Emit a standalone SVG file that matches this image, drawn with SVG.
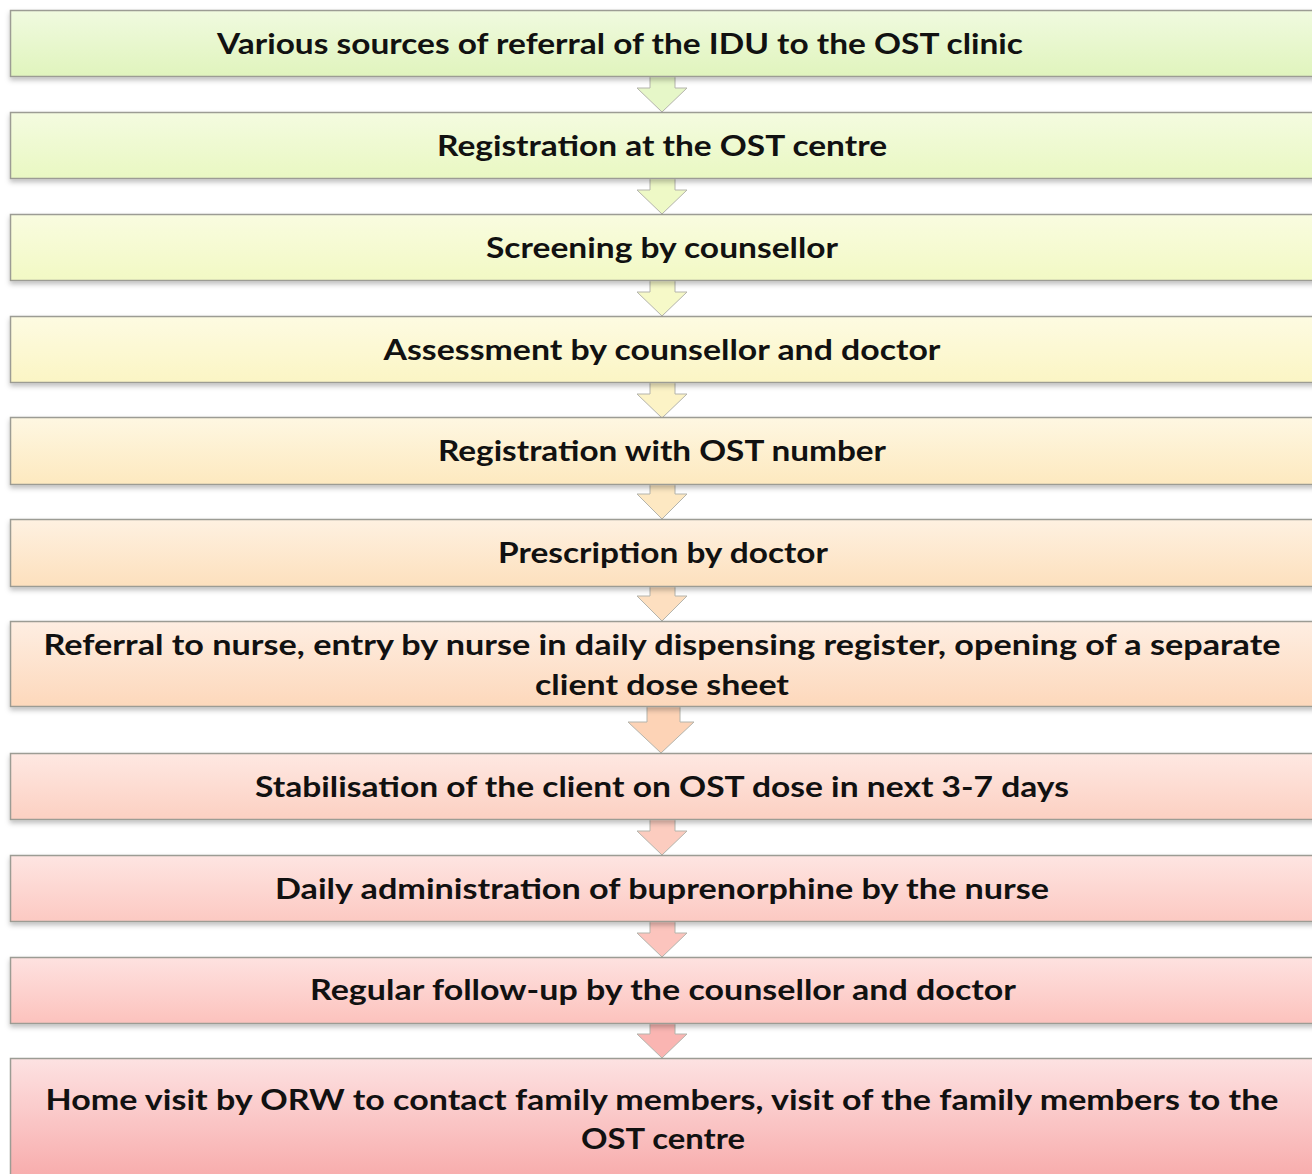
<svg xmlns="http://www.w3.org/2000/svg" width="1312" height="1174" viewBox="0 0 1312 1174">
<style>
.box{stroke:#9c9c94;stroke-width:1.5}
.arr{stroke:#b4b4ac;stroke-width:1}
text{font-family:Lato,"Open Sans","Liberation Sans",sans-serif;font-weight:700;font-size:28px;fill:#111;text-anchor:middle}
</style>
<defs>
<filter id="sh" x="-5%" y="-20%" width="110%" height="150%">
<feDropShadow dx="0" dy="3" stdDeviation="2.5" flood-color="#000" flood-opacity="0.25"/>
</filter>
<linearGradient id="g1" x1="0" y1="0" x2="0" y2="1"><stop offset="0" stop-color="#f0fadf"/><stop offset="1" stop-color="#e0f4bd"/></linearGradient>
<linearGradient id="g2" x1="0" y1="0" x2="0" y2="1"><stop offset="0" stop-color="#f4fbe0"/><stop offset="1" stop-color="#e9f8c2"/></linearGradient>
<linearGradient id="g3" x1="0" y1="0" x2="0" y2="1"><stop offset="0" stop-color="#f9fce0"/><stop offset="1" stop-color="#f2f9c4"/></linearGradient>
<linearGradient id="g4" x1="0" y1="0" x2="0" y2="1"><stop offset="0" stop-color="#fdfbe2"/><stop offset="1" stop-color="#fbf5c4"/></linearGradient>
<linearGradient id="g5" x1="0" y1="0" x2="0" y2="1"><stop offset="0" stop-color="#fef7e2"/><stop offset="1" stop-color="#fde9bf"/></linearGradient>
<linearGradient id="g6" x1="0" y1="0" x2="0" y2="1"><stop offset="0" stop-color="#fef1e1"/><stop offset="1" stop-color="#fde0bd"/></linearGradient>
<linearGradient id="g7" x1="0" y1="0" x2="0" y2="1"><stop offset="0" stop-color="#feeee2"/><stop offset="1" stop-color="#fdd8bb"/></linearGradient>
<linearGradient id="g8" x1="0" y1="0" x2="0" y2="1"><stop offset="0" stop-color="#fee8e2"/><stop offset="1" stop-color="#fcd0c2"/></linearGradient>
<linearGradient id="g9" x1="0" y1="0" x2="0" y2="1"><stop offset="0" stop-color="#fee5e2"/><stop offset="1" stop-color="#fcc9c2"/></linearGradient>
<linearGradient id="g10" x1="0" y1="0" x2="0" y2="1"><stop offset="0" stop-color="#fee2e0"/><stop offset="1" stop-color="#fcc2bd"/></linearGradient>
<linearGradient id="g11" x1="0" y1="0" x2="0" y2="1"><stop offset="0" stop-color="#fde2e2"/><stop offset="1" stop-color="#f7a7a7"/></linearGradient>
</defs>

<g id="connectors">
<path class="arr" fill="#e6f7c8" d="M650,70 H675 V88 H687 L662,112 L637,88 H650 Z"/>
<path class="arr" fill="#eef9c6" d="M650,172 H675 V190 H687 L662,214 L637,190 H650 Z"/>
<path class="arr" fill="#f6f9c8" d="M650,274 H675 V292 H687 L662,316 L637,292 H650 Z"/>
<path class="arr" fill="#fcf3c6" d="M650,376 H675 V394 H687 L662,418 L637,394 H650 Z"/>
<path class="arr" fill="#fde8c2" d="M650,478 H675 V494 H687 L662,519 L637,494 H650 Z"/>
<path class="arr" fill="#fddfc0" d="M650,580 H675 V596 H687 L662,621 L637,596 H650 Z"/>
<path class="arr" fill="#fdd3b6" d="M647,700 H680 V722 H694 L661,753 L628,722 H647 Z"/>
<path class="arr" fill="#fcccbf" d="M650,813 H675 V831 H687 L662,855 L637,831 H650 Z"/>
<path class="arr" fill="#fcc4bd" d="M650,915 H675 V933 H687 L662,957 L637,933 H650 Z"/>
<path class="arr" fill="#fab5b2" d="M650,1017 H675 V1034 H687 L662,1058 L637,1034 H650 Z"/>
</g>

<g id="n1"><rect class="box" filter="url(#sh)" x="10.5" y="10.5" width="1310" height="66" fill="url(#g1)"/><text x="620" y="54" textLength="806" lengthAdjust="spacingAndGlyphs">Various sources of referral of the IDU to the OST clinic</text></g>
<g id="n2"><rect class="box" filter="url(#sh)" x="10.5" y="112.5" width="1310" height="66" fill="url(#g2)"/><text x="662" y="156" textLength="450" lengthAdjust="spacingAndGlyphs">Registration at the OST centre</text></g>
<g id="n3"><rect class="box" filter="url(#sh)" x="10.5" y="214.5" width="1310" height="66" fill="url(#g3)"/><text x="662" y="258" textLength="352" lengthAdjust="spacingAndGlyphs">Screening by counsellor</text></g>
<g id="n4"><rect class="box" filter="url(#sh)" x="10.5" y="316.5" width="1310" height="66" fill="url(#g4)"/><text x="662" y="360" textLength="557" lengthAdjust="spacingAndGlyphs">Assessment by counsellor and doctor</text></g>
<g id="n5"><rect class="box" filter="url(#sh)" x="10.5" y="417.5" width="1310" height="67" fill="url(#g5)"/><text x="662" y="461" textLength="448" lengthAdjust="spacingAndGlyphs">Registration with OST number</text></g>
<g id="n6"><rect class="box" filter="url(#sh)" x="10.5" y="519.5" width="1310" height="67" fill="url(#g6)"/><text x="663" y="563" textLength="330" lengthAdjust="spacingAndGlyphs">Prescription by doctor</text></g>
<g id="n7"><rect class="box" filter="url(#sh)" x="10.5" y="621.5" width="1310" height="85" fill="url(#g7)"/><text x="662" y="655" textLength="1237" lengthAdjust="spacingAndGlyphs">Referral to nurse, entry by nurse in daily dispensing register, opening of a separate</text><text x="662" y="695" textLength="254" lengthAdjust="spacingAndGlyphs">client dose sheet</text></g>
<g id="n8"><rect class="box" filter="url(#sh)" x="10.5" y="753.5" width="1310" height="66" fill="url(#g8)"/><text x="662" y="797" textLength="814" lengthAdjust="spacingAndGlyphs">Stabilisation of the client on OST dose in next 3-7 days</text></g>
<g id="n9"><rect class="box" filter="url(#sh)" x="10.5" y="855.5" width="1310" height="66" fill="url(#g9)"/><text x="662" y="899" textLength="774" lengthAdjust="spacingAndGlyphs">Daily administration of buprenorphine by the nurse</text></g>
<g id="n10"><rect class="box" filter="url(#sh)" x="10.5" y="957.5" width="1310" height="66" fill="url(#g10)"/><text x="663" y="1000" textLength="706" lengthAdjust="spacingAndGlyphs">Regular follow-up by the counsellor and doctor</text></g>
<g id="n11"><rect class="box" x="10.5" y="1058.5" width="1310" height="130" fill="url(#g11)"/><text x="662" y="1110" textLength="1233" lengthAdjust="spacingAndGlyphs">Home visit by ORW to contact family members, visit of the family members to the</text><text x="663" y="1149" textLength="164" lengthAdjust="spacingAndGlyphs">OST centre</text></g>
</svg>
